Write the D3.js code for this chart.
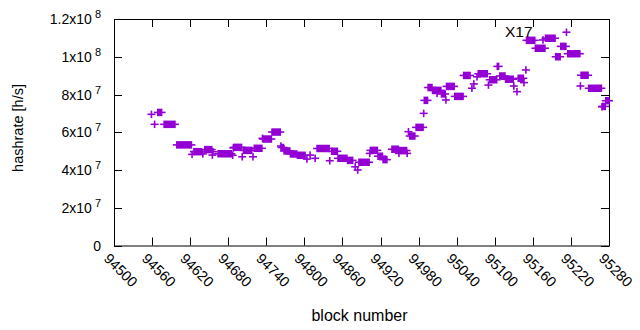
<!DOCTYPE html>
<html>
<head>
<meta charset="utf-8">
<script src="https://cdn.jsdelivr.net/npm/d3@7"></script>
<style>
  body { margin: 0; background: #fff; }
  text { font-family: "Liberation Sans", Arial, sans-serif; fill: #000; }
</style>
</head>
<body>
<div id="chart"></div>
<script>
// runs of consecutive blocks with the same hashrate (single points have start == end)
const runStart = [94559, 94564, 94569, 94579, 94599, 94623, 94626, 94640, 94643, 94655, 94656, 94664,
  94687, 94688, 94689, 94702, 94704, 94719, 94721, 94734, 94735, 94749, 94763, 94764, 94768, 94778,
  94789, 94804, 94809, 94817, 94820, 94840, 94843, 94853, 94868, 94880, 94884, 94886, 94903, 94904,
  94916, 94924, 94938, 94949, 94950, 94962, 94964, 94966, 94976, 94988, 94989, 94995, 95002, 95009,
  95016, 95023, 95024, 95037, 95051, 95064, 95067, 95072, 95074, 95090, 95092, 95104, 95108, 95117,
  95130, 95135, 95137, 95146, 95149, 95150, 95164, 95176, 95180, 95196, 95204, 95213, 95215, 95235,
  95236, 95248, 95269, 95270, 95275];
const runEnd = [94559, 94564, 94575, 94596, 94622, 94623, 94638, 94640, 94654, 94655, 94656, 94685,
  94687, 94688, 94701, 94702, 94717, 94719, 94733, 94734, 94748, 94762, 94763, 94767, 94777, 94788,
  94801, 94804, 94809, 94817, 94839, 94840, 94852, 94867, 94876, 94880, 94884, 94902, 94903, 94915,
  94923, 94930, 94948, 94949, 94961, 94962, 94964, 94974, 94987, 94988, 94994, 95001, 95015, 95009,
  95022, 95023, 95036, 95050, 95061, 95064, 95067, 95072, 95088, 95090, 95103, 95106, 95116, 95129,
  95130, 95135, 95145, 95146, 95149, 95163, 95179, 95176, 95195, 95203, 95212, 95213, 95234, 95235,
  95247, 95268, 95269, 95274, 95280];
const runValue = [6.95e7, 6.42e7, 7.05e7, 6.42e7, 5.33e7, 4.83e7, 4.97e7, 4.85e7, 5.08e7, 4.79e7, 4.97e7, 4.86e7,
  4.78e7, 5.17e7, 5.20e7, 4.70e7, 5.04e7, 4.70e7, 5.15e7, 5.68e7, 5.64e7, 6.01e7, 5.27e7, 5.19e7, 5.01e7, 4.85e7,
  4.78e7, 4.58e7, 4.79e7, 4.62e7, 5.14e7, 4.49e7, 4.99e7, 4.62e7, 4.51e7, 4.17e7, 4.00e7, 4.41e7, 4.88e7, 5.04e7,
  4.73e7, 4.55e7, 5.10e7, 4.88e7, 5.03e7, 4.88e7, 6.03e7, 5.80e7, 6.26e7, 7.00e7, 7.69e7, 8.37e7, 8.22e7, 8.06e7,
  8.03e7, 7.71e7, 8.43e7, 7.90e7, 9.01e7, 8.33e7, 8.56e7, 8.94e7, 9.10e7, 8.50e7, 8.78e7, 9.49e7, 8.98e7, 8.81e7,
  8.45e7, 8.15e7, 8.86e7, 8.63e7, 9.30e7, 10.87e7, 10.45e7, 10.89e7, 10.98e7, 10.00e7, 10.55e7, 11.30e7, 10.16e7, 8.45e7,
  9.02e7, 8.33e7, 7.35e7, 7.37e7, 7.67e7];

const xTicks = [94500, 94560, 94620, 94680, 94740, 94800, 94860, 94920, 94980, 95040, 95100, 95160, 95220, 95280];
const yTicks = [0, 2e7, 4e7, 6e7, 8e7, 1e8, 1.2e8];
const yTickBase = ["0", "2x10", "4x10", "6x10", "8x10", "1x10", "1.2x10"];
const yTickExp  = ["", "7", "7", "7", "7", "8", "8"];

const outerWidth = 640, outerHeight = 330;
const margin = { top: 19, right: 31, bottom: 84.5, left: 114 };
const width  = outerWidth - margin.left - margin.right;
const height = outerHeight - margin.top - margin.bottom;
const purple = "#9400d3";

const svg = d3.select("#chart").append("svg")
  .attr("width", outerWidth)
  .attr("height", outerHeight);

const g = svg.append("g")
  .attr("transform", `translate(${margin.left},${margin.top})`);

const x = d3.scaleLinear().domain([94500, 95280]).range([0, width]);
const y = d3.scaleLinear().domain([0, 1.2e8]).range([height, 0]);

// ticks, pointing inward on all four sides
const tickLen = 8;
g.append("g").selectAll("line.xt").data(xTicks).enter().append("line")
  .attr("x1", d => Math.round(x(d)) + 0.5).attr("x2", d => Math.round(x(d)) + 0.5)
  .attr("y1", height).attr("y2", height - tickLen)
  .attr("stroke", "#000");
g.append("g").selectAll("line.xt2").data(xTicks).enter().append("line")
  .attr("x1", d => Math.round(x(d)) + 0.5).attr("x2", d => Math.round(x(d)) + 0.5)
  .attr("y1", 0).attr("y2", tickLen)
  .attr("stroke", "#000");
g.append("g").selectAll("line.yt").data(yTicks).enter().append("line")
  .attr("x1", 0).attr("x2", tickLen)
  .attr("y1", d => Math.round(y(d)) + 0.5).attr("y2", d => Math.round(y(d)) + 0.5)
  .attr("stroke", "#000");
g.append("g").selectAll("line.yt2").data(yTicks).enter().append("line")
  .attr("x1", width).attr("x2", width - tickLen)
  .attr("y1", d => Math.round(y(d)) + 0.5).attr("y2", d => Math.round(y(d)) + 0.5)
  .attr("stroke", "#000");

// border
g.append("rect")
  .attr("x", 0.5).attr("y", 0.5)
  .attr("width", width).attr("height", height)
  .attr("fill", "none").attr("stroke", "#000");

// y tick labels with superscript exponent
const yLab = g.append("g").selectAll("text").data(yTicks).enter().append("text")
  .attr("x", -13)
  .attr("y", d => y(d) + 5)
  .attr("text-anchor", "end")
  .style("font-size", "14px");
yLab.append("tspan").text((d, i) => yTickBase[i]);
yLab.append("tspan")
  .attr("dx", 3).attr("dy", -6)
  .style("font-size", "11px")
  .text((d, i) => yTickExp[i]);

// x tick labels, rotated
g.append("g").selectAll("text").data(xTicks).enter().append("text")
  .attr("transform", d => `translate(${x(d) - 11},${height + 14}) rotate(45)`)
  .attr("text-anchor", "start")
  .style("font-size", "14.5px")
  .text(d => d);

// axis titles
svg.append("text")
  .attr("x", 359.5).attr("y", 321)
  .attr("text-anchor", "middle")
  .style("font-size", "16px")
  .text("block number");

svg.append("text")
  .attr("transform", "translate(23,128) rotate(-90)")
  .attr("text-anchor", "middle")
  .style("font-size", "14.5px")
  .text("hashrate [h/s]");

// data: each run drawn as overlapping "+" marks
const half = 4, halfV = 3.75;
const marks = g.append("g");
runStart.forEach((s, i) => {
  const x0 = x(s), x1 = x(runEnd[i]), yy = y(runValue[i]);
  marks.append("line")
    .attr("x1", x0 - half).attr("x2", x1 + half)
    .attr("y1", yy).attr("y2", yy)
    .attr("stroke", purple).attr("stroke-width", 1.6);
  marks.append("rect")
    .attr("x", x0 - 0.8).attr("width", x1 - x0 + 1.6)
    .attr("y", yy - halfV).attr("height", halfV * 2)
    .attr("fill", purple);
});

// label inside the plot
svg.append("text")
  .attr("x", 505).attr("y", 37)
  .style("font-size", "15.5px")
  .text("X17");
</script>
</body>
</html>
